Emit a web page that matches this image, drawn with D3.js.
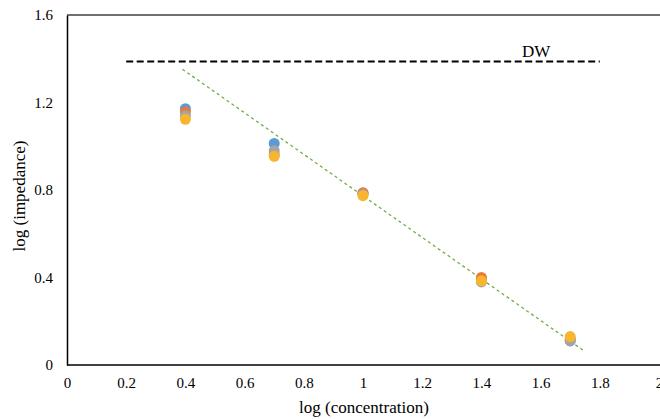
<!DOCTYPE html>
<html>
<head>
<meta charset="utf-8">
<script src="https://cdnjs.cloudflare.com/ajax/libs/d3/7.8.5/d3.min.js"></script>
<style>
  body { margin: 0; background: #fff; }
  text { font-family: "Liberation Serif", "Times New Roman", serif; fill: #000; }
</style>
</head>
<body>
<svg id="chart" width="660" height="419"></svg>
<script>
// data
var concentration = [0.4, 0.7, 1.0, 1.4, 1.7];
var seriesNames = ['s1', 's2', 's3', 's4'];
var seriesColors = ['#5B9BD5', '#E97A3A', '#A5A5A5', '#F8B52E'];
var impedance1 = [1.172, 1.013, 0.785, 0.392, 0.110];
var impedance2 = [1.157, 0.962, 0.788, 0.400, 0.120];
var impedance3 = [1.140, 0.980, 0.780, 0.380, 0.111];
var impedance4 = [1.123, 0.954, 0.774, 0.385, 0.130];
var dwX = [0.2, 1.8];
var dwY = [1.388, 1.388];
var trendX = [0.39, 1.747];
var trendY = [1.352, 0.064];
var xTicks = [0, 0.2, 0.4, 0.6, 0.8, 1, 1.2, 1.4, 1.6, 1.8, 2];
var yTicks = [0, 0.4, 0.8, 1.2, 1.6];

var margin = { top: 15, right: 1, bottom: 54, left: 67 },
    width = 660 - margin.left - margin.right,
    height = 419 - margin.top - margin.bottom;

var svg = d3.select('#chart');
var chart = svg.append('g')
    .attr('transform', 'translate(' + margin.left + ',' + margin.top + ')');

var x = d3.scaleLinear().domain([0, 2]).range([0, 592]);
var y = d3.scaleLinear().domain([0, 1.6]).range([height, 0]);

// frame: top border
chart.append('line')
    .attr('x1', 0).attr('x2', width + 5)
    .attr('y1', 0).attr('y2', 0)
    .attr('stroke', '#404040').attr('stroke-width', 1.5);

// axes
var xAxis = chart.append('g')
    .attr('transform', 'translate(0,' + height + ')')
    .call(d3.axisBottom(x).tickValues(xTicks).tickSize(0).tickPadding(12).tickFormat(d3.format('')));
xAxis.select('.domain').attr('d', 'M0,0H' + (width + 5)).attr('stroke', '#000').attr('stroke-width', 1.5);

var yAxis = chart.append('g')
    .call(d3.axisLeft(y).tickValues(yTicks).tickSize(0).tickPadding(14).tickFormat(d3.format('')));
yAxis.select('.domain').attr('stroke', '#000').attr('stroke-width', 1.5);

chart.selectAll('.tick text')
    .style('font-family', '"Liberation Serif", "Times New Roman", serif')
    .style('font-size', '15px')
    .attr('fill', '#000');

// DW reference line
var line = d3.line().x(d => x(d[0])).y(d => y(d[1]));
chart.append('path')
    .datum(d3.zip(dwX, dwY))
    .attr('d', line)
    .attr('fill', 'none')
    .attr('stroke', '#000')
    .attr('stroke-width', 2)
    .attr('stroke-dasharray', '7,3.5');

chart.append('text')
    .attr('x', x(1.537))
    .attr('y', y(1.388) - 4)
    .style('font-size', '17px')
    .text('DW');

// trendline
chart.append('path')
    .datum(d3.zip(trendX, trendY))
    .attr('d', line)
    .attr('fill', 'none')
    .attr('stroke', '#70AD47')
    .attr('stroke-width', 1.3)
    .attr('stroke-dasharray', '3,3');

// points
var allSeries = [impedance1, impedance2, impedance3, impedance4];
allSeries.forEach((vals, i) => {
    chart.append('g')
        .attr('class', seriesNames[i])
        .selectAll('circle')
        .data(d3.zip(concentration, vals))
        .join('circle')
        .attr('cx', d => x(d[0]))
        .attr('cy', d => y(d[1]))
        .attr('r', 5.5)
        .attr('fill', seriesColors[i]);
});

// axis titles
svg.append('text')
    .attr('x', 364)
    .attr('y', 413)
    .attr('text-anchor', 'middle')
    .style('font-size', '17px')
    .text('log (concentration)');

svg.append('text')
    .attr('transform', 'translate(25,196) rotate(-90)')
    .attr('text-anchor', 'middle')
    .style('font-size', '17px')
    .text('log (impedance)');
</script>
</body>
</html>
